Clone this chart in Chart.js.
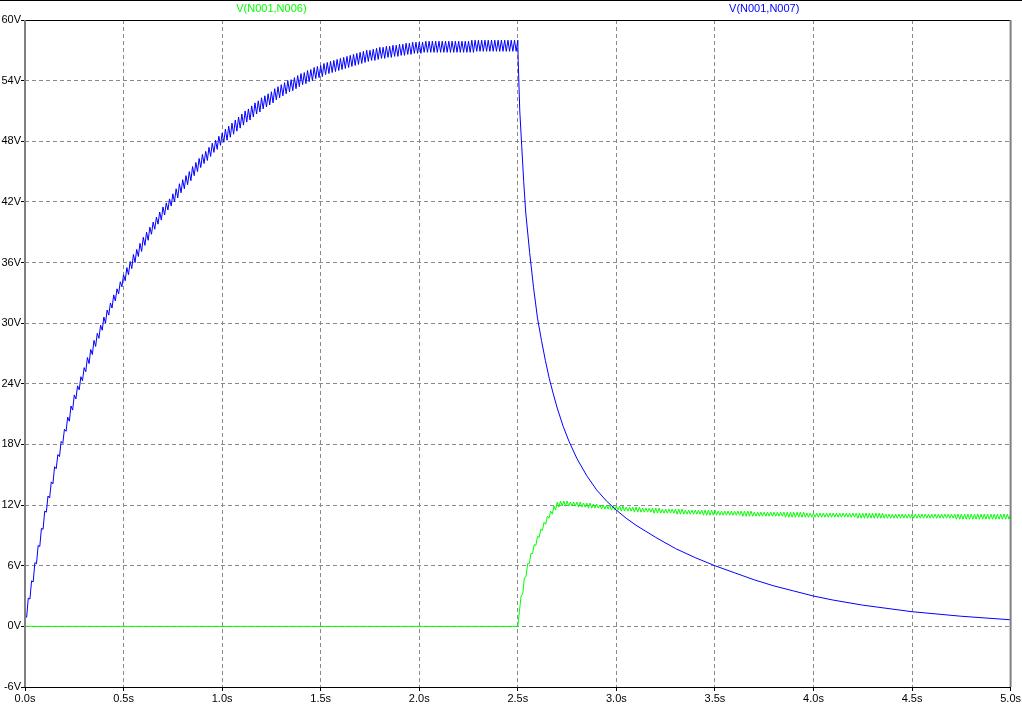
<!DOCTYPE html>
<html>
<head>
<meta charset="utf-8">
<script src="https://cdn.jsdelivr.net/npm/chart.js@4"></script>
<style>
  body { margin: 0; background: #fff; }
  #wrap { width: 1022px; height: 708px; }
</style>
</head>
<body>
<div id="wrap"><canvas id="plot"></canvas></div>
<script>
// sample spacing of the rippled runs (half a 60 Hz cycle), seconds
const rippleStep = 1 / 120;

const traceNames = ['V(N001,N006)', 'V(N001,N007)'];
const traceColors = ['rgb(0,255,0)', 'rgb(0,0,255)'];

// V(N001,N007): charging with ripple, from 0 s, one value per half cycle
const blueChargeStart = 0;
const blueCharge = [
  1.0,0.9, 2.8,2.7, 4.5,4.4, 6.3,6.2, 8.0,7.9,
  9.7,9.6, 11.4,11.3, 12.9,12.7, 14.3,14.1, 15.8,15.6,
  17.0,16.8, 18.3,18.1, 19.5,19.3, 20.7,20.3, 21.8,21.4,
  22.9,22.5, 23.8,23.4, 24.7,24.3, 25.6,25.2, 26.6,26.0,
  27.4,26.9, 28.3,27.7, 29.0,28.5, 29.8,29.3, 30.6,30.0,
  31.3,30.8, 32.0,31.5, 32.8,32.2, 33.4,32.9, 34.1,33.6,
  34.8,34.2, 35.5,34.8, 36.1,35.4, 36.8,36.0, 37.3,36.6,
  37.9,37.1, 38.5,37.7, 39.0,38.2, 39.5,38.8, 40.0,39.3,
  40.5,39.8, 41.0,40.2, 41.5,40.7, 41.9,41.2, 42.3,41.6,
  42.8,42.0, 43.3,42.4, 43.8,42.9, 44.2,43.3, 44.6,43.7,
  45.0,44.1, 45.5,44.6, 45.9,45.0, 46.3,45.4, 46.7,45.8,
  47.0,46.1, 47.4,46.5, 47.8,46.9, 48.1,47.2, 48.5,47.6,
  48.8,47.9, 49.2,48.1, 49.5,48.4, 49.8,48.7, 50.1,49.0,
  50.4,49.3, 50.7,49.6, 51.0,49.9, 51.2,50.1, 51.5,50.4,
  51.8,50.7, 52.0,50.9, 52.3,51.2, 52.5,51.4, 52.7,51.6,
  52.9,51.8, 53.2,52.1, 53.4,52.3, 53.6,52.5, 53.8,52.7,
  54.0,52.9, 54.1,53.0, 54.3,53.2, 54.5,53.4, 54.7,53.6,
  54.8,53.7, 55.0,53.9, 55.1,54.0, 55.3,54.2, 55.4,54.3,
  55.5,54.4, 55.7,54.6, 55.8,54.7, 55.9,54.8, 56.0,54.9,
  56.1,55.0, 56.2,55.1, 56.3,55.2, 56.4,55.3, 56.5,55.4,
  56.6,55.5, 56.7,55.6, 56.8,55.7, 56.9,55.8, 57.0,55.9,
  57.0,56.0, 57.1,56.0, 57.2,56.1, 57.3,56.2, 57.3,56.2,
  57.4,56.3, 57.4,56.3, 57.5,56.4, 57.5,56.4, 57.6,56.5,
  57.6,56.5, 57.7,56.6, 57.7,56.6, 57.8,56.7, 57.8,56.7,
  57.8,56.7, 57.8,56.8, 57.9,56.8, 57.9,56.8, 57.9,56.8,
  57.9,56.8, 57.9,56.8, 57.9,56.8, 57.9,56.8, 57.9,56.8,
  57.9,56.8, 57.9,56.8, 57.9,56.8, 57.9,56.8, 57.9,56.8,
  57.9,56.8, 58.0,56.8, 58.0,56.9, 58.0,56.9, 58.0,56.9,
  58.0,56.9, 58.0,56.9, 58.0,56.9, 58.0,56.9, 58.0,56.9,
  58.0,56.9, 58.0,56.9, 58.0,56.9, 58.0,56.9, 58.0,56.9,
  58.0
];

// V(N001,N007): discharge after 2.5 s
const blueDecayTime = [2.502, 2.51, 2.52, 2.53, 2.54, 2.56, 2.58, 2.6, 2.62, 2.64, 2.66, 2.68,
  2.7, 2.73, 2.76, 2.8, 2.85, 2.9, 2.95, 3.0, 3.05, 3.1, 3.15, 3.2, 3.3, 3.4, 3.5, 3.6,
  3.7, 3.8, 3.9, 4.0, 4.1, 4.25, 4.5, 4.75, 5.0];
const blueDecayVolt = [56, 51, 47.5, 44, 41, 37, 33.5, 30.5, 28.3, 26.3, 24.5, 23,
  21.6, 19.8, 18.3, 16.6, 14.9, 13.5, 12.4, 11.5, 10.7, 10.0, 9.4, 8.8, 7.7, 6.8, 6.0, 5.3,
  4.6, 4.0, 3.5, 3.0, 2.6, 2.1, 1.45, 1.0, 0.65];

// V(N001,N006): off until 2.5 s
const greenOffTime = [0, 2.5];
const greenOffVolt = [0, 0];

// V(N001,N006): from 2.5 s, one value per half cycle
const greenOnStart = 2.5;
const greenOn = [
  0.0,1.5, 3.0,3.2, 4.8,4.9, 6.2,6.2, 7.2,7.2,
  8.1,8.0, 8.9,8.8, 9.6,9.5, 10.3,10.1, 10.9,10.7,
  11.4,11.1, 11.9,11.5, 12.3,11.8, 12.4,11.9, 12.4,11.9,
  12.4,11.9, 12.3,11.9, 12.3,11.9, 12.3,11.8, 12.3,11.8,
  12.2,11.8, 12.2,11.7, 12.2,11.7, 12.1,11.7, 12.1,11.7,
  12.0,11.6, 12.0,11.6, 12.0,11.6, 12.0,11.5, 11.9,11.5,
  11.9,11.5, 11.9,11.4, 11.9,11.4, 11.8,11.4, 11.8,11.4,
  11.8,11.3, 11.8,11.3, 11.8,11.3, 11.7,11.3, 11.7,11.3,
  11.7,11.3, 11.7,11.2, 11.7,11.2, 11.7,11.2, 11.6,11.2,
  11.6,11.2, 11.6,11.2, 11.6,11.2, 11.6,11.1, 11.6,11.1,
  11.6,11.1, 11.5,11.1, 11.5,11.1, 11.5,11.1, 11.5,11.1,
  11.5,11.1, 11.5,11.0, 11.5,11.0, 11.5,11.0, 11.5,11.0,
  11.5,11.0, 11.4,11.0, 11.4,11.0, 11.4,11.0, 11.4,11.0,
  11.4,11.0, 11.4,11.0, 11.4,11.0, 11.4,10.9, 11.4,10.9,
  11.4,10.9, 11.4,10.9, 11.3,10.9, 11.3,10.9, 11.3,10.9,
  11.3,10.9, 11.3,10.9, 11.3,10.9, 11.3,10.9, 11.3,10.9,
  11.3,10.9, 11.3,10.8, 11.3,10.8, 11.3,10.8, 11.3,10.8,
  11.3,10.8, 11.3,10.8, 11.3,10.8, 11.2,10.8, 11.2,10.8,
  11.2,10.8, 11.2,10.8, 11.2,10.8, 11.2,10.8, 11.2,10.8,
  11.2,10.8, 11.2,10.8, 11.2,10.8, 11.2,10.8, 11.2,10.8,
  11.2,10.8, 11.2,10.8, 11.2,10.8, 11.2,10.7, 11.2,10.7,
  11.2,10.7, 11.2,10.7, 11.2,10.7, 11.2,10.7, 11.2,10.7,
  11.2,10.7, 11.2,10.7, 11.1,10.7, 11.1,10.7, 11.1,10.7,
  11.1,10.7, 11.1,10.7, 11.1,10.7, 11.1,10.7, 11.1,10.7,
  11.1,10.7, 11.1,10.7, 11.1,10.7, 11.1,10.7, 11.1,10.7,
  11.1,10.7, 11.1,10.7, 11.1,10.7, 11.1,10.7, 11.1,10.7,
  11.1,10.7, 11.1,10.7, 11.1,10.7, 11.1,10.6, 11.1,10.6,
  11.1,10.6, 11.1,10.6, 11.1,10.6, 11.1,10.6, 11.1,10.6,
  11.1,10.6, 11.1,10.6, 11.1,10.6, 11.1,10.6, 11.1,10.6,
  11.1,10.6, 11.1,10.6, 11.1,10.6, 11.1,10.6, 11.1,10.6,
  11.1
];

const timeMin = 0, timeMax = 5, timeStep = 0.5;
const voltMin = -6, voltMax = 60, voltStep = 6;

function sampled(start, values) {
  return values.map((v, i) => ({ x: start + i * rippleStep, y: v }));
}
function paired(times, volts) {
  return times.map((t, i) => ({ x: t, y: volts[i] }));
}

const blueData = sampled(blueChargeStart, blueCharge).concat(paired(blueDecayTime, blueDecayVolt));
const greenData = paired(greenOffTime, greenOffVolt).concat(sampled(greenOnStart, greenOn));

// LTspice style frame and trace names above the plot
const frame = {
  id: 'frame',
  beforeDraw(chart) {
    const ctx = chart.ctx;
    ctx.save();
    ctx.fillStyle = '#000';
    ctx.fillRect(0, 0, chart.width, 1);
    ctx.restore();
  },
  afterDraw(chart) {
    const { ctx, chartArea: a } = chart;
    ctx.save();
    ctx.lineWidth = 1;
    ctx.strokeStyle = '#000';
    ctx.beginPath();
    ctx.moveTo(a.left, a.top + 0.5); ctx.lineTo(a.right, a.top + 0.5);
    ctx.moveTo(a.left, a.bottom + 0.5); ctx.lineTo(a.right, a.bottom + 0.5);
    ctx.stroke();
    ctx.strokeStyle = '#808080';
    ctx.lineWidth = 2;
    ctx.beginPath();
    ctx.moveTo(a.left, a.top); ctx.lineTo(a.left, a.bottom);
    ctx.moveTo(a.right, a.top); ctx.lineTo(a.right, a.bottom);
    ctx.stroke();
    ctx.font = '11px "Liberation Sans", Arial, sans-serif';
    ctx.textAlign = 'center';
    ctx.textBaseline = 'middle';
    traceNames.forEach((name, i) => {
      ctx.fillStyle = traceColors[i];
      ctx.fillText(name, a.left + a.width * (0.25 + 0.5 * i), a.top - 11);
    });
    ctx.restore();
  }
};

const gridStyle = {
  color: '#8a8a8a',
  lineWidth: 1,
  drawTicks: true,
  tickLength: 4,
  tickColor: '#000',
  tickBorderDash: []
};

new Chart(document.getElementById('plot'), {
  type: 'line',
  data: {
    datasets: [
      { label: traceNames[1], data: blueData, borderColor: traceColors[1], borderWidth: 1, order: 0 },
      { label: traceNames[0], data: greenData, borderColor: traceColors[0], borderWidth: 1, order: 1 }
    ]
  },
  options: {
    responsive: true,
    maintainAspectRatio: false,
    animation: false,
    parsing: false,
    normalized: true,
    elements: { point: { radius: 0 }, line: { tension: 0 } },
    layout: { padding: { top: 20, right: 11, left: 0, bottom: 0 } },
    plugins: { legend: { display: false }, tooltip: { enabled: false } },
    scales: {
      x: {
        type: 'linear',
        min: timeMin, max: timeMax,
        afterFit: s => { s.height = 21; },
        grid: gridStyle,
        border: { display: false, dash: [4, 3] },
        ticks: {
          stepSize: timeStep, maxRotation: 0, autoSkip: false, padding: 1,
          color: '#000',
          font: { family: '"Liberation Sans", Arial, sans-serif', size: 11 },
          callback: v => v.toFixed(1) + 's'
        }
      },
      y: {
        type: 'linear',
        min: voltMin, max: voltMax,
        afterFit: s => { s.width = 25; },
        grid: gridStyle,
        border: { display: false, dash: [4, 3] },
        ticks: {
          stepSize: voltStep, padding: 0,
          color: '#000',
          font: { family: '"Liberation Sans", Arial, sans-serif', size: 11 },
          callback: v => v + 'V'
        }
      }
    }
  },
  plugins: [frame]
});
</script>
</body>
</html>
